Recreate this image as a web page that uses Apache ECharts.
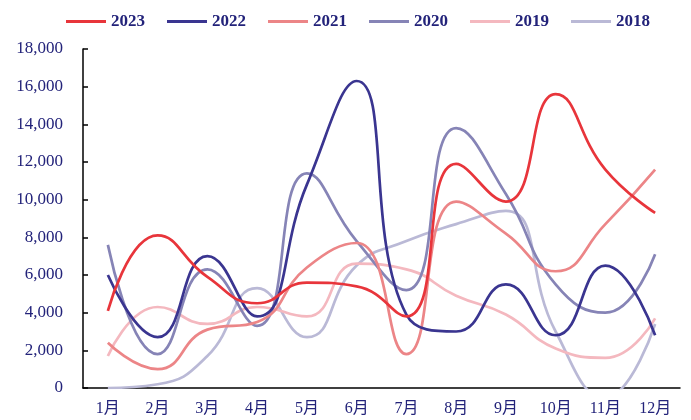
<!DOCTYPE html>
<html>
<head>
<meta charset="utf-8">
<script src="https://cdn.jsdelivr.net/npm/echarts@6/dist/echarts.min.js"></script>
<style>
  html, body { margin: 0; padding: 0; background: #ffffff; }
  #chart { width: 691px; height: 420px; }
</style>
</head>
<body>
<div id="chart"></div>
<script>
// Monthly values by year
const months = ['1月', '2月', '3月', '4月', '5月', '6月', '7月', '8月', '9月', '10月', '11月', '12月'];
const y2023 = [4100, 8100, 5900, 4500, 5600, 5400, 3800, 11900, 9900, 15600, 11600, 9300];
const y2022 = [6000, 2700, 7000, 3800, 10800, 16300, 3900, 3000, 5500, 2800, 6500, 2800];
const y2021 = [2400, 1000, 3100, 3500, 6400, 7700, 1800, 9900, 8200, 6200, 8700, 11600];
const y2020 = [7600, 1800, 6300, 3300, 11400, 7800, 5200, 13800, 10300, 5500, 4000, 7100];
const y2019 = [1700, 4300, 3400, 4300, 3800, 6600, 6300, 4900, 3900, 2100, 1600, 3700];
const y2018 = [0, 200, 1700, 5300, 2700, 6500, 7800, 8700, 9400, 3000, -500, 3400];
const yTicks = { min: 0, max: 18000, step: 2000 };

const seriesDefs = [
  { name: '2023', data: y2023, color: '#e8353b' },
  { name: '2022', data: y2022, color: '#3a3590' },
  { name: '2021', data: y2021, color: '#ec8587' },
  { name: '2020', data: y2020, color: '#8684b6' },
  { name: '2019', data: y2019, color: '#f4b8bf' },
  { name: '2018', data: y2018, color: '#bab9d6' }
];

const textColor = '#23237a';
const serif = '"Liberation Serif", "Noto Sans CJK SC", serif';

const chart = echarts.init(document.getElementById('chart'), null, { renderer: 'canvas' });
chart.setOption({
  animation: false,
  backgroundColor: '#ffffff',
  legend: {
    top: 8,
    left: 61,
    itemWidth: 40,
    itemHeight: 3,
    itemGap: 22,
    icon: 'rect',
    textStyle: { color: textColor, fontFamily: serif, fontSize: 17, fontWeight: 'bold' },
    data: seriesDefs.map(s => s.name)
  },
  grid: { left: 83, right: 11, top: 49, bottom: 32, containLabel: false },
  xAxis: {
    type: 'category',
    data: months,
    boundaryGap: true,
    axisLine: { lineStyle: { color: '#000', width: 1.5 } },
    axisTick: { inside: true, length: 5, lineStyle: { color: '#000', width: 1.5 } },
    axisLabel: { color: textColor, fontFamily: serif, fontSize: 16, margin: 13 },
    splitLine: { show: false }
  },
  yAxis: {
    type: 'value',
    min: yTicks.min,
    max: yTicks.max,
    interval: yTicks.step,
    axisLine: { show: true, lineStyle: { color: '#000', width: 1.5 } },
    axisTick: { show: true, inside: true, length: 5, lineStyle: { color: '#000', width: 1.5 } },
    axisLabel: {
      color: textColor, fontFamily: serif, fontSize: 17, margin: 20,
      formatter: v => v.toLocaleString('en-US')
    },
    splitLine: { show: false }
  },
  series: seriesDefs.map((s, i) => ({
    name: s.name,
    type: 'line',
    data: s.data,
    smooth: 0.5,
    symbol: 'none',
    clip: true,
    z: 10 - i,
    color: s.color,
    lineStyle: { color: s.color, width: 2.7 }
  }))
});
</script>
</body>
</html>
